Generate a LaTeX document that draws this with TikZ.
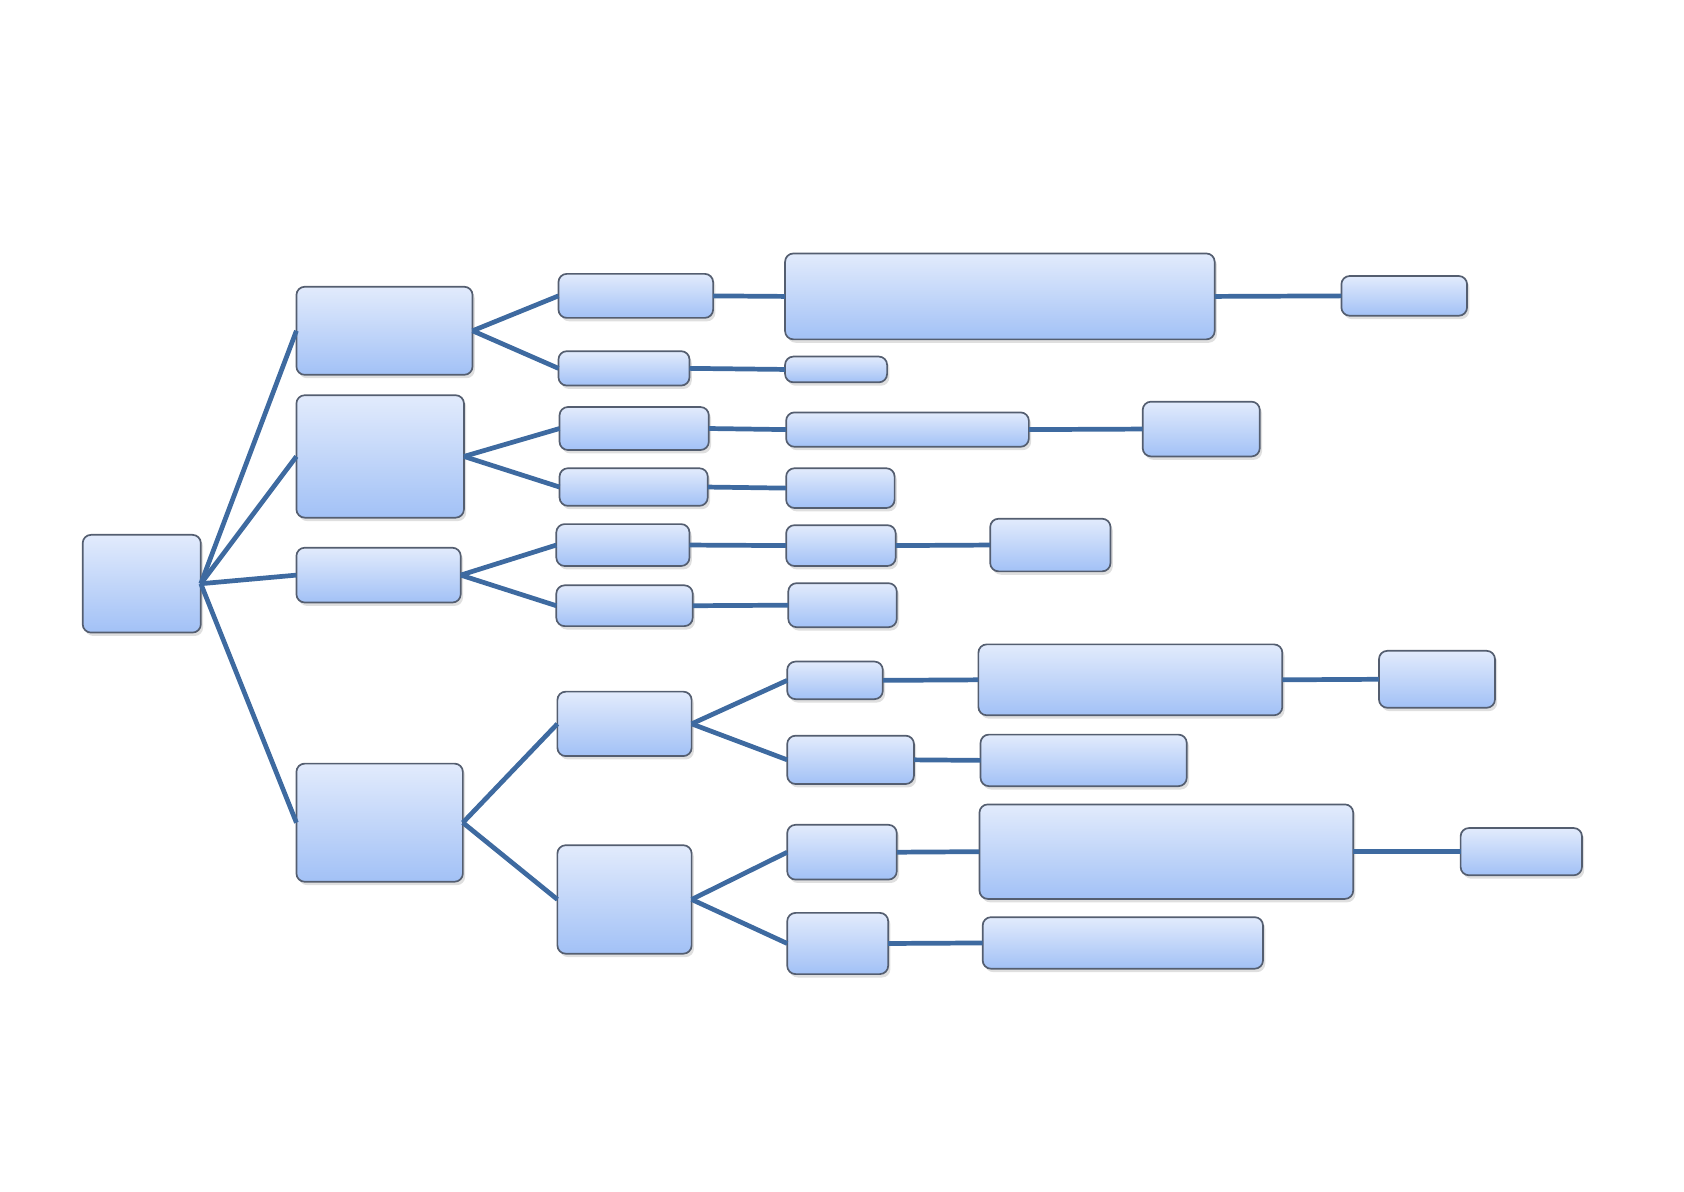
\documentclass[tikz,border=0pt]{standalone}
\usepackage{tikz}
\usetikzlibrary{shadows}

\definecolor{boxtop}{RGB}{226,235,252}
\definecolor{boxbot}{RGB}{162,193,246}
\definecolor{boxedge}{RGB}{84,94,112}
\definecolor{linkblue}{RGB}{62,106,160}

\tikzset{
  tbox/.style={draw=boxedge, line width=0.45pt, rounded corners=2.2pt,
    top color=boxtop, bottom color=boxbot, inner sep=0pt, outer sep=0pt,
    drop shadow={opacity=0.25, shadow xshift=0.6pt, shadow yshift=-0.9pt}},
  link/.style={draw=linkblue, line width=1.25pt}
}

% box from its corners (x1,y1) (x2,y2), in picture units
\newcommand{\boxnode}[5]{%
  \node[tbox, minimum width={(#4-#2)*0.01cm}, minimum height={(#5-#3)*0.01cm}]
    (#1) at ({(#2+#4)/2},{(#3+#5)/2}) {};}

\begin{document}
\begin{tikzpicture}[x=0.01cm, y=-0.01cm]
    \useasboundingbox (0,0) rectangle (1568,1109);

    % root and first level
    \boxnode{root}{77}{498}{187}{589}
    \boxnode{a1}{276}{267}{440}{349}
    \boxnode{a2}{276}{368}{432}{482}
    \boxnode{a3}{276}{510}{429}{561}
    \boxnode{a4}{276}{711}{431}{821}

    % second level
    \boxnode{b1}{520}{255}{664}{296}
    \boxnode{b2}{520}{327}{642}{359}
    \boxnode{b3}{521}{379}{660}{419}
    \boxnode{b4}{521}{436}{659}{471}
    \boxnode{b5}{518}{488}{642}{527}
    \boxnode{b6}{518}{545}{645}{583}
    \boxnode{b7}{519}{644}{644}{704}
    \boxnode{b8}{519}{787}{644}{888}

    % third level
    \boxnode{c1}{731}{236}{1131}{316}
    \boxnode{c2}{731}{332}{826}{356}
    \boxnode{c3}{732}{384}{958}{416}
    \boxnode{c4}{732}{436}{833}{473}
    \boxnode{c5}{732}{489}{834}{527}
    \boxnode{c6}{734}{543}{835}{584}
    \boxnode{e1}{733}{616}{822}{651}
    \boxnode{e2}{733}{685}{851}{730}
    \boxnode{e3}{733}{768}{835}{819}
    \boxnode{e4}{733}{850}{827}{907}

    % fourth level
    \boxnode{d1}{1249}{257}{1366}{294}
    \boxnode{d3}{1064}{374}{1173}{425}
    \boxnode{d5}{922}{483}{1034}{532}
    \boxnode{f1}{911}{600}{1194}{666}
    \boxnode{f2}{913}{684}{1105}{732}
    \boxnode{f3}{912}{749}{1260}{837}
    \boxnode{f4}{915}{854}{1176}{902}

    % fifth level
    \boxnode{g1}{1284}{606}{1392}{659}
    \boxnode{g3}{1360}{771}{1473}{815}

    % links
    \foreach \n in {a1,a2,a3,a4}
        \draw[link] (root.east) -- (\n.west);
    \draw[link] (a1.east) -- (b1.west);
    \draw[link] (a1.east) -- (b2.west);
    \draw[link] (a2.east) -- (b3.west);
    \draw[link] (a2.east) -- (b4.west);
    \draw[link] (a3.east) -- (b5.west);
    \draw[link] (a3.east) -- (b6.west);
    \draw[link] (a4.east) -- (b7.west);
    \draw[link] (a4.east) -- (b8.west);
    \draw[link] (b7.east) -- (e1.west);
    \draw[link] (b7.east) -- (e2.west);
    \draw[link] (b8.east) -- (e3.west);
    \draw[link] (b8.east) -- (e4.west);

    \draw[link] (b1.east) -- (c1.west);
    \draw[link] (b2.east) -- (c2.west);
    \draw[link] (b3.east) -- (c3.west);
    \draw[link] (b4.east) -- (c4.west);
    \draw[link] (b5.east) -- (c5.west);
    \draw[link] (b6.east) -- (c6.west);
    \draw[link] (c1.east) -- (d1.west);
    \draw[link] (c3.east) -- (d3.west);
    \draw[link] (c5.east) -- (d5.west);
    \draw[link] (e1.east) -- (f1.west);
    \draw[link] (e2.east) -- (f2.west);
    \draw[link] (e3.east) -- (f3.west);
    \draw[link] (e4.east) -- (f4.west);
    \draw[link] (f1.east) -- (g1.west);
    \draw[link] (f3.east) -- (g3.west);
\end{tikzpicture}
\end{document}
